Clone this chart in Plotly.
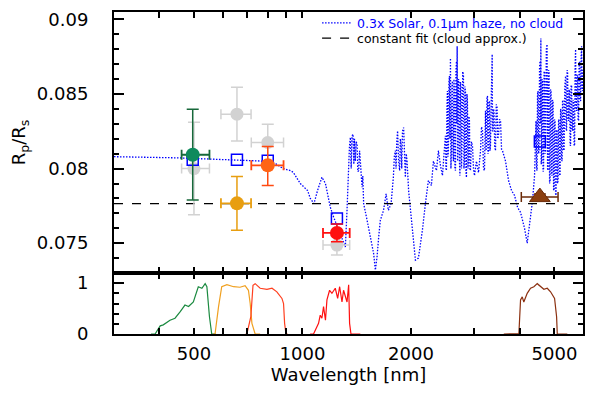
import math
import plotly.graph_objects as go

# ---------------- data ----------------
# model spectrum (nm, Rp/Rs)
spec_wl = [300, 350, 400, 450, 500, 550, 600, 660, 720, 780, 840, 884, 925, 943, 986,
           1033, 1051, 1076, 1100, 1132, 1158, 1183, 1194, 1220, 1273, 1315,
           1329, 1336, 1343, 1350, 1358, 1365, 1372, 1381, 1388, 1394, 1401, 1409, 1417,
           1424, 1432, 1440, 1447, 1455, 1463, 1470, 1478,
           1511, 1542, 1575, 1593, 1610, 1627, 1644, 1678, 1706, 1731, 1761,
           1787, 1798, 1810, 1818, 1826, 1836, 1848, 1860, 1868, 1876, 1885, 1894, 1908,
           1918, 1929, 1940, 1950, 1970, 1992,
           2035, 2057, 2097, 2151, 2193, 2235, 2278, 2308, 2353, 2383, 2414,
           2445, 2461, 2476, 2492, 2500, 2508, 2516, 2524, 2532, 2540, 2548, 2557, 2565,
           2573, 2581, 2590, 2598, 2606, 2615, 2623, 2631, 2640, 2648, 2657, 2665, 2674,
           2680, 2686, 2693, 2700, 2708, 2717, 2725, 2734, 2743, 2752, 2761, 2770, 2783,
           2796, 2805, 2814, 2823, 2832, 2841, 2850, 2859, 2868, 2878, 2887, 2896, 2905,
           2914, 2924, 2943, 2962, 2981, 3000,
           3038, 3078,
           3118, 3138, 3158, 3178, 3198, 3209, 3219, 3230, 3240, 3250, 3260, 3270, 3281,
           3291, 3302, 3312, 3323, 3341, 3359, 3367, 3376, 3387, 3398, 3414, 3431, 3447,
           3464, 3480, 3497, 3520, 3543, 3566, 3588,
           3658, 3729, 3801, 3875, 3950, 4026, 4078, 4130, 4201, 4236, 4292, 4347,
           4403, 4425, 4446, 4460, 4474, 4488, 4503, 4518, 4532, 4546, 4560, 4572, 4584,
           4595, 4605, 4620, 4634, 4649, 4664, 4679, 4694, 4709, 4724, 4747, 4770, 4785,
           4800, 4816, 4831, 4847, 4862, 4878, 4893, 4909, 4924, 4940, 4956, 4972, 4988,
           5004, 5020, 5036, 5052, 5068, 5084, 5100, 5117, 5133, 5150, 5166, 5183, 5200,
           5216, 5233, 5250, 5266, 5283, 5300, 5317,
           5343, 5369, 5386, 5403, 5420, 5438, 5455, 5473, 5490, 5508, 5525, 5543, 5561,
           5579, 5597, 5615, 5633, 5651, 5669, 5687, 5705, 5723, 5741, 5760, 5778, 5797,
           5815, 5834, 5852, 5871, 5890, 5909, 5928, 5947, 5966, 5985, 6005, 6025]
spec_rp = [0.0808, 0.08078, 0.08075, 0.08072, 0.08068, 0.08064, 0.0806, 0.08057, 0.08054,
           0.0805, 0.08035, 0.0800, 0.07987, 0.07975, 0.0790,
           0.07853, 0.0780, 0.07765, 0.0785, 0.07942, 0.0790, 0.07787, 0.07742, 0.07675,
           0.07565, 0.07475,
           0.0772, 0.0790, 0.08053, 0.0815, 0.08209, 0.0800, 0.0822, 0.08231, 0.0803,
           0.0820, 0.0805, 0.0818, 0.08165, 0.0798, 0.07987, 0.0812, 0.0805, 0.0790,
           0.07875, 0.0795, 0.07765,
           0.07653, 0.07542, 0.07431, 0.0732, 0.07409, 0.07542, 0.07653, 0.0772, 0.07831,
           0.0772, 0.07765,
           0.07942, 0.0808, 0.0812, 0.0800, 0.0818, 0.08253, 0.0805, 0.07987, 0.0820,
           0.08165, 0.0800, 0.0825, 0.08275, 0.0802, 0.07942, 0.0810, 0.0805, 0.0785,
           0.0772,
           0.0750, 0.07387, 0.0740, 0.07587, 0.07767, 0.0792, 0.07887, 0.0805, 0.07987,
           0.0812, 0.0802,
           0.07953, 0.0805, 0.0812, 0.0822, 0.0800, 0.07987, 0.0840, 0.0852, 0.0808,
           0.0812, 0.0858, 0.0862, 0.0820, 0.0874, 0.0800, 0.08153, 0.0855, 0.08587,
           0.0810, 0.0805, 0.0860, 0.0852, 0.0800, 0.07987, 0.0865, 0.0872, 0.0830,
           0.0882, 0.0805, 0.0812, 0.0860, 0.08587, 0.0805, 0.07953, 0.0858, 0.08553,
           0.0800, 0.08153, 0.0865, 0.0862, 0.0800, 0.0805, 0.0855, 0.0852, 0.0798,
           0.0794, 0.0850, 0.08453, 0.0800, 0.0805, 0.0835, 0.0832, 0.0800, 0.07987,
           0.0818, 0.08153, 0.0800, 0.07953,
           0.0805, 0.07973,
           0.0812, 0.0828, 0.08253, 0.0800, 0.07987, 0.0838, 0.08387, 0.0812, 0.08153,
           0.0848, 0.08487, 0.0810, 0.0812, 0.0845, 0.08453, 0.0812, 0.08153, 0.0850,
           0.08767, 0.0825, 0.08253, 0.0840, 0.08387, 0.0815, 0.0812, 0.0843, 0.0842,
           0.0820, 0.0822, 0.0833, 0.0832, 0.0813, 0.0812,
           0.0805, 0.0792, 0.07853, 0.0782, 0.0774, 0.07707, 0.07653, 0.0760, 0.0750,
           0.07573, 0.07653, 0.07787,
           0.07953, 0.0820, 0.0832, 0.0800, 0.07987, 0.0850, 0.0852, 0.0810, 0.0812,
           0.0868, 0.0872, 0.0830, 0.08873, 0.0803, 0.0805, 0.0860, 0.08587, 0.0798,
           0.07987, 0.0865, 0.08653, 0.0810, 0.0812, 0.0880, 0.08833, 0.0800, 0.07987,
           0.0866, 0.08653, 0.0790, 0.0792, 0.0853, 0.0852, 0.0796, 0.07953, 0.0846,
           0.08453, 0.0786, 0.07853, 0.0833, 0.0832, 0.0783, 0.0782, 0.0826, 0.08253,
           0.0790, 0.0792, 0.0833, 0.0832, 0.0796, 0.07953, 0.0840, 0.08387, 0.0806,
           0.0805, 0.0846, 0.08453, 0.0813, 0.0812,
           0.0855, 0.0862, 0.0826, 0.08253, 0.0866, 0.08653, 0.0833, 0.0832, 0.0853,
           0.0852, 0.0816, 0.08153, 0.0856, 0.08553, 0.0826, 0.08253, 0.0846, 0.08453,
           0.0816, 0.08153, 0.0870, 0.0880, 0.0840, 0.08387, 0.0863, 0.0862, 0.0833,
           0.0832, 0.0870, 0.0872, 0.0846, 0.08453, 0.0875, 0.0882, 0.0853, 0.0852,
           0.0866, 0.08653]

const_fit = 0.07765
axis_wl = [300, 6000]

# earlier measurements (grey)
grey_wl = [500, 658, 801, 1246]
grey_rp = [0.0800, 0.08365, 0.08175, 0.07487]
grey_err = [0.0031, 0.0018, 0.00123, 0.00067]
grey_xm = [38, 64, 80, 106]
grey_xp = [52, 62, 85, 106]

# model binned (open squares)
bin_wl = [496, 658, 801, 1246, 4555]
bin_rp = [0.0806, 0.0806, 0.08053, 0.07665, 0.08182]

# new measurements
pt_wl = [496, 658, 801, 1246]
pt_rp = [0.08093, 0.07767, 0.08022, 0.07569]
pt_ep = [0.00305, 0.0018, 0.00127, 0.0006]
pt_em = [0.00304, 0.0018, 0.00135, 0.0006]
pt_xm = [34, 64, 80, 106]
pt_xp = [56, 62, 85, 106]
pt_fill = ["#0e8a5c", "#e89e10", "#ff6414", "#ff1010"]
pt_err = ["#17683a", "#e89e10", "#ff4a10", "#ff1010"]

tri_wl = [4555]
tri_rp = [0.07809]
tri_e = [0.0002]
tri_xm = [509]
tri_xp = [561]

# filter transmission curves
f1_wl = [380, 390, 403, 411, 429, 443, 458, 472, 483, 498, 514, 526, 537, 543, 552, 560, 575]
f1_t = [0, 0, 0.16, 0.18, 0.27, 0.31, 0.44, 0.57, 0.54, 0.63, 0.93, 0.90, 0.99, 0.93, 0.34, 0, 0]
f2_wl = [565, 572, 585, 597, 617, 644, 671, 693, 708, 716, 724, 739, 763]
f2_t = [0, 0, 0.54, 0.93, 0.97, 0.93, 0.92, 0.95, 0.86, 0.60, 0.21, 0, 0]
f3_wl = [695, 701, 719, 729, 739, 763, 797, 823, 849, 877, 886, 892, 900, 910]
f3_t = [0, 0, 0.34, 0.96, 0.99, 0.90, 0.88, 0.90, 0.83, 0.70, 0.60, 0.21, 0, 0]
f4_wl = [1050, 1073, 1108, 1120, 1132, 1144, 1158, 1169, 1189, 1207, 1233, 1252, 1268,
         1287, 1300, 1329, 1343, 1351, 1363, 1447]
f4_t = [0, 0, 0.21, 0.37, 0.31, 0.54, 0.27, 0.67, 0.86, 0.80, 0.90, 0.70, 0.93, 0.63,
        0.86, 0.63, 0.97, 0.21, 0, 0]
f5_wl = [3618, 3984, 4026, 4070, 4111, 4201, 4292, 4384, 4480, 4575, 4673, 4775, 4877,
         5004, 5069, 5091, 5428]
f5_t = [0, 0.01, 0.67, 0.73, 0.63, 0.80, 0.90, 0.93, 0.99, 0.93, 0.88, 0.90, 0.83, 0.70,
        0.34, 0, 0]
filters = [(f1_wl, f1_t, "#1b8a40"), (f2_wl, f2_t, "#f0a020"), (f3_wl, f3_t, "#ff4020"),
           (f4_wl, f4_t, "#ff1010"), (f5_wl, f5_t, "#8b3010")]

x_tickvals = [300, 400, 500, 600, 700, 800, 900, 1000, 2000, 3000, 4000, 5000, 6000]
x_ticktext = ["", "", "500", "", "", "", "", "1000", "2000", "", "", "5000", ""]

# ---------------- figure ----------------
fig = go.Figure()
FONT = "DejaVu Sans"

fig.add_trace(go.Scatter(
    x=spec_wl, y=spec_rp, xaxis="x2", yaxis="y2", mode="lines", legend="legend",
    line=dict(color="#0000ff", width=1.3, dash="1.5px,1.5px"),
    name='<span style="color:#0000ff">0.3x Solar, 0.1μm haze, no cloud</span>'))
fig.add_trace(go.Scatter(
    x=axis_wl, y=[const_fit, const_fit], xaxis="x2", yaxis="y2", mode="lines",
    legend="legend2",
    line=dict(color="black", width=1.3, dash="dash"),
    name="constant fit (cloud approx.)"))

# grey points
fig.add_trace(go.Scatter(
    x=grey_wl, y=grey_rp, xaxis="x2", yaxis="y2", mode="markers", showlegend=False,
    marker=dict(symbol="circle", size=13, color="#d2d2d2"),
    error_y=dict(type="data", array=grey_err, color="#d2d2d2", thickness=1.5, width=6),
    error_x=dict(type="data", array=grey_xp, arrayminus=grey_xm, color="#d2d2d2",
                 thickness=1.5, width=5)))

# binned model squares
fig.add_trace(go.Scatter(
    x=bin_wl, y=bin_rp, xaxis="x2", yaxis="y2", mode="markers", showlegend=False,
    marker=dict(symbol="square-open", size=11, color="#0000ff", line=dict(width=1.5))))

# coloured points
for i in range(len(pt_wl)):
    fig.add_trace(go.Scatter(
        x=[pt_wl[i]], y=[pt_rp[i]], xaxis="x2", yaxis="y2", mode="markers",
        showlegend=False,
        marker=dict(symbol="circle", size=14, color=pt_fill[i]),
        error_y=dict(type="data", array=[pt_ep[i]], arrayminus=[pt_em[i]],
                     color=pt_err[i], thickness=1.5, width=6),
        error_x=dict(type="data", array=[pt_xp[i]], arrayminus=[pt_xm[i]],
                     color=pt_err[i], thickness=1.8, width=5)))

fig.add_trace(go.Scatter(
    x=tri_wl, y=tri_rp, xaxis="x2", yaxis="y2", mode="markers", showlegend=False,
    marker=dict(symbol="triangle-up", size=18, color="#8b3f10",
                line=dict(color="#6b2a08", width=1)),
    error_y=dict(type="data", array=tri_e, color="#6b2a08", thickness=1.5, width=6),
    error_x=dict(type="data", array=tri_xp, arrayminus=tri_xm, color="#6b2a08",
                 thickness=1.5, width=5)))

for fw, ft, col in filters:
    fig.add_trace(go.Scatter(x=fw, y=ft, xaxis="x", yaxis="y", mode="lines",
                             showlegend=False, line=dict(color=col, width=1.2)))

xr = [math.log10(300), math.log10(6000)]
split = 61 / 322
tickfont = dict(family=FONT, size=18, color="black")

common_x = dict(type="log", range=xr, tickmode="array", tickvals=x_tickvals,
                ticks="inside", ticklen=6, tickwidth=1.5, tickcolor="black",
                showline=True, linewidth=2, linecolor="black", mirror="ticks",
                showgrid=False, zeroline=False, automargin=False)

legend_common = dict(xanchor="left", yanchor="middle", bgcolor="rgba(0,0,0,0)",
                     borderwidth=0, font=dict(family=FONT, size=12.5, color="black"),
                     itemwidth=30)

# the page body adds an 8px offset; margins compensate for it
fig.update_layout(
    width=600, height=397,
    margin=dict(l=106, r=25, t=4, b=71, autoexpand=False),
    paper_bgcolor="white", plot_bgcolor="white",
    font=dict(family=FONT, size=18, color="black"),
    xaxis=dict(**common_x, anchor="y", ticktext=x_ticktext, tickfont=tickfont,
               ticklabelstandoff=2,
               title=dict(text="Wavelength [nm]", font=dict(family=FONT, size=18),
                          standoff=6)),
    xaxis2=dict(**common_x, anchor="y2", matches="x", showticklabels=False),
    yaxis=dict(domain=[0, split], range=[0, 1.2], tickmode="array", tickvals=[0, 1],
               ticktext=["0", "1"], ticks="inside", ticklen=10, tickwidth=1.5,
               tickcolor="black", showline=True, linewidth=2, linecolor="black",
               mirror="ticks", showgrid=False, zeroline=False, tickfont=tickfont,
               ticklabelstandoff=20, automargin=False,
               minor=dict(tickmode="linear", tick0=0, dtick=0.2, ticks="inside",
                          ticklen=5, tickwidth=1.5, tickcolor="black", showgrid=False)),
    yaxis2=dict(domain=[split, 1], range=[0.073, 0.0905], tickmode="array",
                tickvals=[0.075, 0.08, 0.085, 0.09],
                ticktext=["0.075", "0.08", "0.085", "0.09"],
                ticks="inside", ticklen=10, tickwidth=1.5, tickcolor="black",
                showline=True, linewidth=2, linecolor="black", mirror="ticks",
                showgrid=False, zeroline=False, tickfont=tickfont, ticklabelstandoff=20,
                automargin=False,
                minor=dict(tickmode="linear", tick0=0, dtick=0.001, ticks="inside",
                           ticklen=5, tickwidth=1.5, tickcolor="black", showgrid=False),
                title=dict(text="R<sub>p</sub>/R<sub>s</sub>",
                           font=dict(family=FONT, size=18), standoff=10)),
    legend=dict(**legend_common, x=0.433, y=0.965),
    legend2=dict(**legend_common, x=0.433, y=0.918),
    showlegend=True,
)

fig.write_html("out.html")
